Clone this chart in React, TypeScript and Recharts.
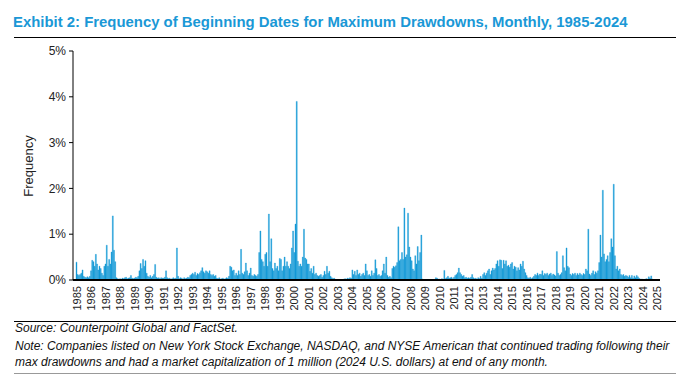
import React from "react";
import { BarChart, Bar, XAxis, YAxis } from "recharts";

// monthly share of max-drawdown start dates, % (Jan..Dec per row)
const freq1980s = [
  0.39, 0.12, 0.1, 0.12, 0.15, 0.22, 0.08, 0.06, 0.05, 0.07, 0.05, 0.08, // 1985
  0.2, 0.43, 0.4, 0.3, 0.56, 0.35, 0.22, 0.3, 0.25, 0.15, 0.1, 0.3, // 1986
  0.35, 0.76, 0.3, 0.45, 0.35, 0.61, 1.4, 0.65, 0.4, 0.05, 0.03, 0.02, // 1987
  0.03, 0.02, 0.04, 0.03, 0.05, 0.06, 0.03, 0.04, 0.05, 0.1, 0.04, 0.03, // 1988
  0.04, 0.06, 0.05, 0.08, 0.2, 0.36, 0.25, 0.45, 0.3, 0.42, 0.15, 0.08, // 1989
];
const freq1990s = [
  0.06, 0.1, 0.05, 0.08, 0.12, 0.34, 0.06, 0.04, 0.05, 0.03, 0.05, 0.04, // 1990
  0.04, 0.06, 0.2, 0.05, 0.03, 0.04, 0.02, 0.03, 0.05, 0.03, 0.04, 0.7, // 1991
  0.08, 0.03, 0.05, 0.04, 0.02, 0.05, 0.03, 0.04, 0.06, 0.05, 0.1, 0.12, // 1992
  0.15, 0.12, 0.17, 0.1, 0.14, 0.12, 0.16, 0.2, 0.27, 0.18, 0.15, 0.2, // 1993
  0.18, 0.15, 0.2, 0.12, 0.1, 0.12, 0.08, 0.1, 0.04, 0.03, 0.05, 0.02, // 1994
  0.03, 0.04, 0.02, 0.03, 0.05, 0.04, 0.08, 0.3, 0.28, 0.2, 0.22, 0.1, // 1995
  0.15, 0.1, 0.2, 0.12, 0.67, 0.15, 0.12, 0.18, 0.37, 0.2, 0.1, 0.15, // 1996
  0.26, 0.1, 0.08, 0.12, 0.1, 0.08, 0.12, 0.6, 1.07, 0.45, 0.4, 0.3, // 1997
  0.56, 0.6, 0.3, 1.44, 0.4, 0.9, 0.25, 0.2, 0.37, 0.25, 0.3, 0.2, // 1998
  0.47, 0.45, 0.2, 0.3, 0.5, 0.3, 0.4, 0.3, 0.25, 0.35, 0.7, 1.07, // 1999
];
const freq2000s = [
  0.6, 1.22, 3.9, 0.41, 0.3, 0.35, 0.3, 0.5, 1.11, 0.48, 0.45, 0.35, // 2000
  0.35, 0.19, 0.25, 0.15, 0.3, 0.12, 0.15, 0.1, 0.08, 0.1, 0.12, 0.06, // 2001
  0.1, 0.19, 0.12, 0.3, 0.15, 0.19, 0.08, 0.05, 0.03, 0.04, 0.01, 0.0, // 2002
  0.0, 0.0, 0.0, 0.01, 0.0, 0.02, 0.03, 0.02, 0.04, 0.03, 0.05, 0.04, // 2003
  0.22, 0.12, 0.19, 0.1, 0.22, 0.12, 0.15, 0.08, 0.12, 0.15, 0.1, 0.35, // 2004
  0.2, 0.1, 0.12, 0.08, 0.2, 0.1, 0.15, 0.44, 0.25, 0.1, 0.12, 0.08, // 2005
  0.1, 0.2, 0.35, 0.15, 0.5, 0.1, 0.06, 0.08, 0.05, 0.25, 0.3, 0.28, // 2006
  0.31, 0.38, 1.16, 0.42, 0.45, 0.6, 0.45, 1.57, 0.5, 0.55, 1.46, 0.72, // 2007
  0.5, 0.42, 0.24, 0.2, 0.53, 0.35, 0.73, 0.42, 0.6, 0.98, 0.02, 0.0, // 2008
  0.0, 0.0, 0.0, 0.0, 0.0, 0.0, 0.0, 0.0, 0.01, 0.05, 0.04, 0.02, // 2009
];
const freq2010s = [
  0.02, 0.01, 0.03, 0.02, 0.21, 0.03, 0.05, 0.08, 0.04, 0.05, 0.06, 0.03, // 2010
  0.06, 0.1, 0.12, 0.16, 0.26, 0.16, 0.12, 0.08, 0.1, 0.05, 0.06, 0.04, // 2011
  0.05, 0.04, 0.06, 0.12, 0.05, 0.03, 0.04, 0.02, 0.05, 0.03, 0.08, 0.04, // 2012
  0.12, 0.16, 0.1, 0.15, 0.2, 0.24, 0.12, 0.2, 0.26, 0.22, 0.25, 0.35, // 2013
  0.42, 0.3, 0.44, 0.43, 0.25, 0.43, 0.35, 0.42, 0.3, 0.32, 0.28, 0.35, // 2014
  0.38, 0.24, 0.3, 0.28, 0.2, 0.27, 0.22, 0.35, 0.3, 0.41, 0.24, 0.16, // 2015
  0.1, 0.05, 0.04, 0.06, 0.03, 0.05, 0.08, 0.12, 0.1, 0.15, 0.1, 0.13, // 2016
  0.12, 0.2, 0.1, 0.14, 0.12, 0.15, 0.1, 0.13, 0.15, 0.1, 0.13, 0.11, // 2017
  0.09, 0.62, 0.15, 0.1, 0.12, 0.16, 0.53, 0.27, 0.2, 0.7, 0.3, 0.27, // 2018
  0.13, 0.1, 0.14, 0.12, 0.15, 0.1, 0.14, 0.11, 0.15, 0.12, 0.1, 0.14, // 2019
];
const freq2020s = [
  0.12, 0.24, 0.2, 1.11, 0.13, 0.1, 0.15, 0.2, 0.12, 0.18, 0.15, 0.2, // 2020
  0.38, 0.98, 0.5, 1.96, 0.57, 0.4, 0.45, 0.53, 0.4, 0.6, 0.9, 0.72, // 2021
  2.09, 0.53, 0.24, 0.3, 0.2, 0.24, 0.12, 0.1, 0.12, 0.08, 0.1, 0.09, // 2022
  0.06, 0.1, 0.05, 0.1, 0.04, 0.09, 0.05, 0.1, 0.07, 0.04, 0.02, 0.02, // 2023
  0.02, 0.01, 0.02, 0.03, 0.02, 0.07, 0.04, 0.09, 0.02, 0.0, 0.0, 0.0, // 2024
];

const yearLabels = [
  "1985", "1986", "1987", "1988", "1989", "1990", "1991", "1992", "1993", "1994",
  "1995", "1996", "1997", "1998", "1999", "2000", "2001", "2002", "2003", "2004",
  "2005", "2006", "2007", "2008", "2009", "2010", "2011", "2012", "2013", "2014",
  "2015", "2016", "2017", "2018", "2019", "2020", "2021", "2022", "2023", "2024",
  "2025",
];
const yTicks = [0, 1, 2, 3, 4, 5];

const allFreq = [...freq1980s, ...freq1990s, ...freq2000s, ...freq2010s, ...freq2020s];
const data = allFreq.map((v, i) => ({
  month: `${yearLabels[Math.floor(i / 12)]}-${(i % 12) + 1}`,
  value: v,
}));
// closing Jan 2025 slot so the last year label has a tick
data.push({ month: `${yearLabels[40]}-1`, value: null as any });

const BLUE = "#1399d6";
const FONT = '"Liberation Sans", Arial, Helvetica, sans-serif';

const YearTick = (props: any) => {
  const { x, y, payload } = props;
  const label = String(payload.value).split("-")[0];
  return (
    <text
      x={x}
      y={y}
      dy="0.36em"
      transform={`rotate(-90 ${x} ${y})`}
      textAnchor="end"
      fontSize={11}
      fontFamily={FONT}
      fill="#222"
    >
      {label}
    </text>
  );
};

export default function App() {
  return (
    <div
      style={{
        position: "absolute",
        left: 0,
        top: 0,
        width: 689,
        height: 376,
        background: "#fff",
        fontFamily: FONT,
        overflow: "hidden",
      }}
    >
      <div
        style={{
          position: "absolute",
          left: 13,
          top: 13,
          fontSize: 14.9,
          lineHeight: "18px",
          fontWeight: 700,
          color: "#1a98d6",
          whiteSpace: "nowrap",
        }}
      >
        Exhibit 2: Frequency of Beginning Dates for Maximum Drawdowns, Monthly, 1985-2024
      </div>
      <div style={{ position: "absolute", left: 14, top: 37, width: 662, borderTop: "1.5px solid #000" }} />

      <div style={{ position: "absolute", left: 0, top: 0 }}>
        <BarChart
          width={689}
          height={320}
          data={data}
          margin={{ top: 51, right: 29, left: 13, bottom: 0 }}
          barCategoryGap={0}
        >
          <XAxis
            dataKey="month"
            interval={11}
            height={40}
            padding={{ left: 3, right: 2 }}
            axisLine={{ stroke: "#000", strokeWidth: 2 }}
            tickLine={false}
            tickSize={4}
            tickMargin={2}
            tick={<YearTick />}
          />
          <YAxis
            width={60}
            domain={[0, 5]}
            ticks={yTicks}
            tickFormatter={(v: number) => `${v}%`}
            axisLine={{ stroke: "#000" }}
            tickLine={{ stroke: "#000" }}
            tickSize={4}
            tickMargin={3}
            tick={{ fontSize: 12, fill: "#222", fontFamily: FONT }}
          />
          <Bar dataKey="value" fill={BLUE} stroke={BLUE} strokeWidth={0.35} isAnimationActive={false} />
        </BarChart>
      </div>

      <div
        style={{
          position: "absolute",
          left: 28,
          top: 166,
          transform: "translate(-50%, -50%) rotate(-90deg)",
          fontSize: 13,
          color: "#222",
          whiteSpace: "nowrap",
        }}
      >
        Frequency
      </div>

      <div style={{ position: "absolute", left: 14, top: 321, width: 662, borderTop: "1px solid #000" }} />
      <div
        style={{
          position: "absolute",
          left: 15,
          top: 321,
          fontSize: 12,
          lineHeight: "15px",
          fontStyle: "italic",
          color: "#111",
          whiteSpace: "nowrap",
        }}
      >
        Source: Counterpoint Global and FactSet.
      </div>
      <div
        style={{
          position: "absolute",
          left: 15,
          top: 338,
          fontSize: 12,
          lineHeight: "16px",
          fontStyle: "italic",
          color: "#111",
          whiteSpace: "nowrap",
        }}
      >
        Note: Companies listed on New York Stock Exchange, NASDAQ, and NYSE American that continued trading following their
        <br />
        max drawdowns and had a market capitalization of 1 million (2024 U.S. dollars) at end of any month.
      </div>
      <div style={{ position: "absolute", left: 14, top: 373, width: 662, borderTop: "1px solid #999" }} />
    </div>
  );
}
